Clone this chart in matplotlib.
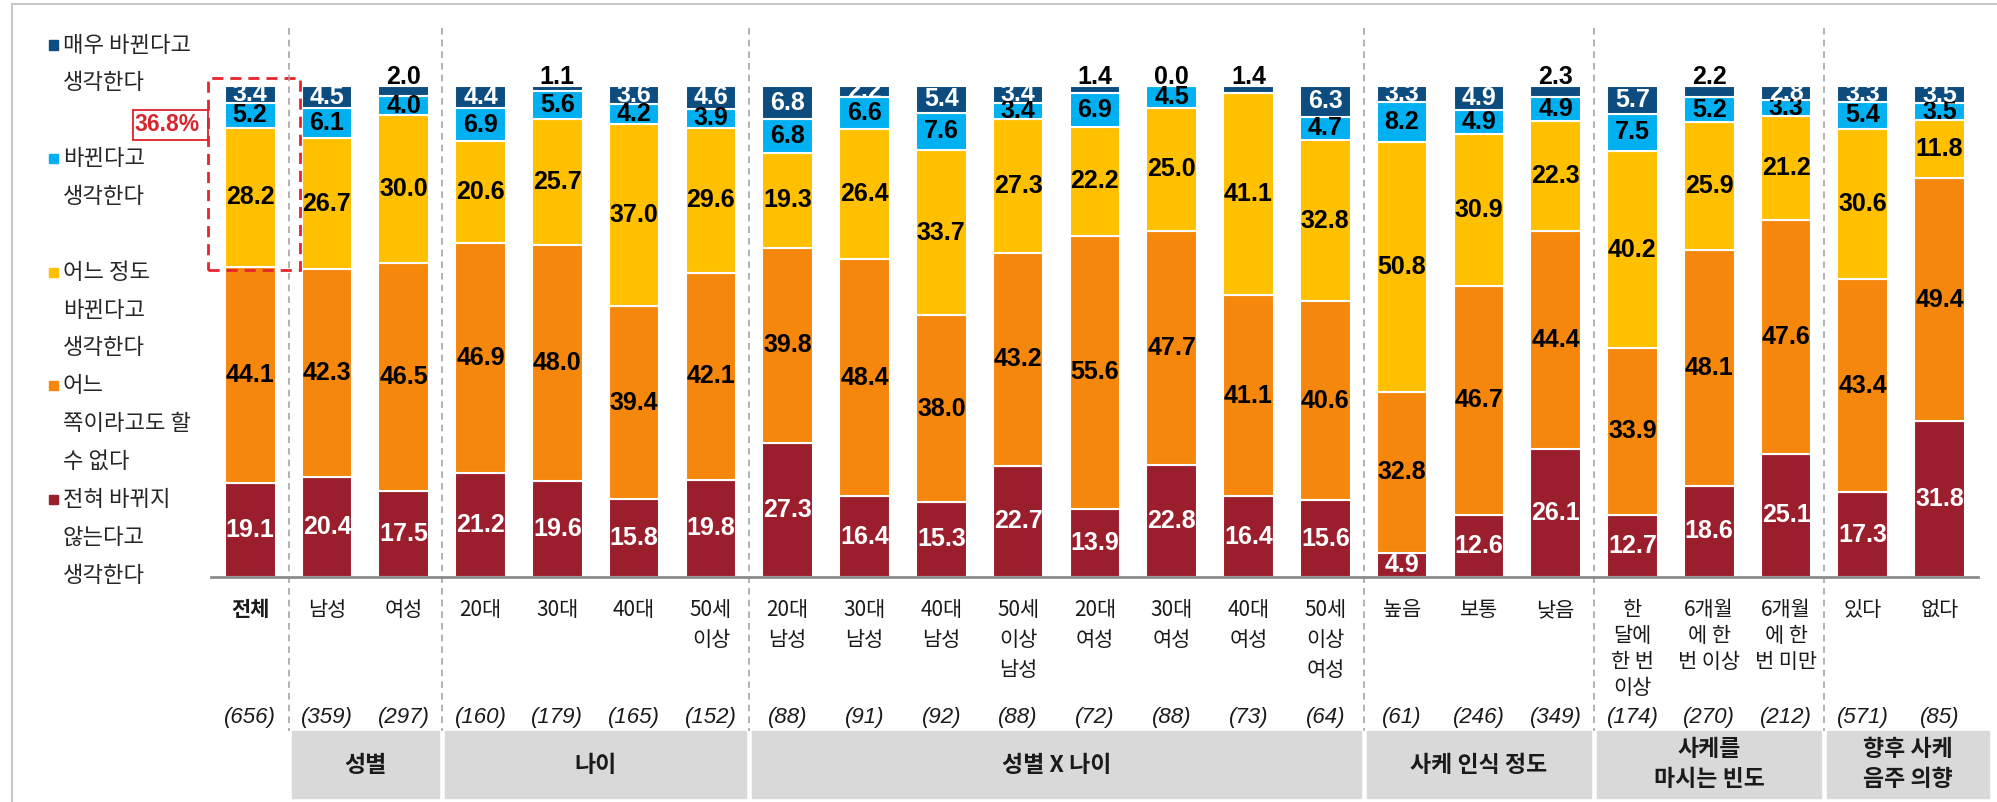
import numpy as np
import matplotlib
matplotlib.use('Agg')
import matplotlib.pyplot as plt
from matplotlib import font_manager
from matplotlib.patches import Rectangle
from matplotlib.lines import Line2D

plt.rcParams['font.family'] = ['Noto Sans CJK KR', 'DejaVu Sans']

# chart data (percent), bottom -> top of each stack
categories = ['전체', '남성', '여성', '20대', '30대', '40대', '50세\n이상',
              '20대\n남성', '30대\n남성', '40대\n남성', '50세\n이상\n남성',
              '20대\n여성', '30대\n여성', '40대\n여성', '50세\n이상\n여성',
              '높음', '보통', '낮음',
              '한\n달에\n한 번\n이상', '6개월\n에 한\n번 이상', '6개월\n에 한\n번 미만',
              '있다', '없다']
sample_sizes = [656, 359, 297, 160, 179, 165, 152, 88, 91, 92, 88, 72, 88, 73, 64,
                61, 246, 349, 174, 270, 212, 571, 85]

never_change = [19.1, 20.4, 17.5, 21.2, 19.6, 15.8, 19.8, 27.3, 16.4, 15.3, 22.7, 13.9,
                22.8, 16.4, 15.6, 4.9, 12.6, 26.1, 12.7, 18.6, 25.1, 17.3, 31.8]
neutral = [44.1, 42.3, 46.5, 46.9, 48.0, 39.4, 42.1, 39.8, 48.4, 38.0, 43.2, 55.6,
           47.7, 41.1, 40.6, 32.8, 46.7, 44.4, 33.9, 48.1, 47.6, 43.4, 49.4]
somewhat_change = [28.2, 26.7, 30.0, 20.6, 25.7, 37.0, 29.6, 19.3, 26.4, 33.7, 27.3, 22.2,
                   25.0, 41.1, 32.8, 50.8, 30.9, 22.3, 40.2, 25.9, 21.2, 30.6, 11.8]
change = [5.2, 6.1, 4.0, 6.9, 5.6, 4.2, 3.9, 6.8, 6.6, 7.6, 3.4, 6.9,
          4.5, 0.0, 4.7, 8.2, 4.9, 4.9, 7.5, 5.2, 3.3, 5.4, 3.5]
very_change = [3.4, 4.5, 2.0, 4.4, 1.1, 3.6, 4.6, 6.8, 2.2, 5.4, 3.4, 1.4,
               0.0, 1.4, 6.3, 3.3, 4.9, 2.3, 5.7, 2.2, 2.8, 3.3, 3.5]

series_labels = ['전혀 바뀌지\n않는다고\n생각한다', '어느\n쪽이라고도 할\n수 없다',
                 '어느 정도\n바뀐다고\n생각한다', '바뀐다고\n생각한다', '매우 바뀐다고\n생각한다']
colors = ['#9B1E2C', '#F4870C', '#FFC000', '#00B0F0', '#0C4C7E']
text_colors = ['white', 'black', 'black', 'black', 'white']

groups = [('성별', 1, 2), ('나이', 3, 6), ('성별 X 나이', 7, 14),
          ('사케 인식 정도', 15, 17), ('사케를\n마시는 빈도', 18, 20), ('향후 사케\n음주 의향', 21, 22)]
# small top values whose labels sit above the bar
above_top = [2, 4, 11, 12, 13, 17, 19]

W, H = 1997, 802
AX_TOP, AX_BOT = 86, 577


def fx(px):
    return px / W


def fy(py):
    return 1 - py / H


def ay(py):
    return (AX_BOT - py) / (AX_BOT - AX_TOP)


installed = {f.name for f in font_manager.fontManager.ttflist}
if 'Liberation Sans Narrow' in installed:
    num_font, num_size, small_size = ['Liberation Sans Narrow', 'DejaVu Sans'], 20, 17
else:
    num_font, num_size, small_size = ['Liberation Sans', 'DejaVu Sans'], 18, 16

fig = plt.figure(figsize=(W / 100, H / 100), dpi=100)
ax = fig.add_axes([fx(211), fy(AX_BOT), fx(1978) - fx(211), (AX_BOT - AX_TOP) / H])

stack = [never_change, neutral, somewhat_change, change, very_change]
x = np.arange(len(categories))
bottom = np.zeros(len(x))
for k, (vals, col, tcol) in enumerate(zip(stack, colors, text_colors)):
    vals = np.array(vals)
    ax.bar(x, vals, 0.66, bottom=bottom, color=col, edgecolor='white', linewidth=1.5)
    for i, v in enumerate(vals):
        if k == 4 and i in above_top:
            ax.text(i, 101.8, f'{v:.1f}', ha='center', va='center', color='black',
                    fontsize=num_size, fontweight='bold', family=num_font, clip_on=False)
            continue
        if v <= 0:
            continue
        ax.text(i, bottom[i] + v / 2, f'{v:.1f}', ha='center', va='center', color=tcol,
                fontsize=num_size, fontweight='bold', family=num_font)
    bottom += vals

ax.set_xlim(-0.51, 22.5)
ax.set_ylim(0, 100)
ax.set_xticks([])
ax.set_yticks([])
for s in ['top', 'left', 'right']:
    ax.spines[s].set_visible(False)
ax.spines['bottom'].set_color('#8C8C8C')
ax.spines['bottom'].set_linewidth(2)

trans = ax.get_xaxis_transform()

# category labels and sample sizes
for i, cat in enumerate(categories):
    step = 26 if 18 <= i <= 20 else 30
    for j, line in enumerate(cat.split('\n')):
        ax.text(i, ay(610 + step * j), line, transform=trans, ha='center', va='center',
                fontsize=15, color='#1a1a1a', fontweight='bold' if i == 0 else 'normal')
    ax.text(i, ay(718), f'({sample_sizes[i]})', transform=trans, ha='center', va='center',
            fontsize=small_size, style='italic', color='#1a1a1a', family=num_font)

# group separators and boxes
for name, a, b in groups:
    s = a - 0.5
    e = b + 0.5 if b < len(categories) - 1 else 22.68
    ax.plot([s, s], [ay(28), ay(731)], transform=trans, ls=(0, (4, 3)), color='#A6A6A6',
            lw=1.2, clip_on=False)
    ax.add_patch(Rectangle((s + 0.04, ay(798)), e - s - 0.08, ay(731) - ay(798),
                           transform=trans, color='#D9D9D9', clip_on=False, zorder=0))
    lines = name.split('\n')
    ys = [765] if len(lines) == 1 else [749, 780]
    for line, yy in zip(lines, ys):
        ax.text((s + e) / 2, ay(yy), line, transform=trans, ha='center', va='center',
                fontsize=16.5, fontweight='bold', color='#1a1a1a')

# highlight of the total bar
ax.add_patch(Rectangle((-0.547, 62.5), 1.197, 39.1, fill=False, edgecolor='#E8232B',
                       ls=(0, (4, 2.5)), lw=2, clip_on=False))
ax.add_patch(Rectangle((-1.523, 89.0), 0.976, 6.1, fill=False, edgecolor='#E0202A',
                       lw=1.3, clip_on=False))
ax.text(-1.51, 92.1, '36.8%', ha='left', va='center', color='#D9262E', fontsize=num_size - 1.5,
        fontweight='bold', family=num_font, clip_on=False)

# legend drawn by hand, top item first
line_step = 37.86
legend_rows = [[0, 1], [3, 4], [6, 7, 8], [9, 10, 11], [12, 13, 14]]
for rows, label, col in zip(legend_rows, series_labels[::-1], colors[::-1]):
    for r, line in zip(rows, label.split('\n')):
        fig.text(fx(63), fy(45 + line_step * r), line, ha='left', va='center',
                 fontsize=16, color='#262626')
    y0 = 45 + line_step * rows[0]
    fig.add_artist(Rectangle((fx(49), fy(y0 + 4.5)), fx(9), 9 / H, color=col))

# outer frame
fig.add_artist(Line2D([fx(12), fx(12)], [fy(4), 0], color='#C8C8C8', lw=1.5))
fig.add_artist(Line2D([fx(12), 1], [fy(4), fy(4)], color='#C8C8C8', lw=1.5))

fig.savefig('out.png', dpi=100)
